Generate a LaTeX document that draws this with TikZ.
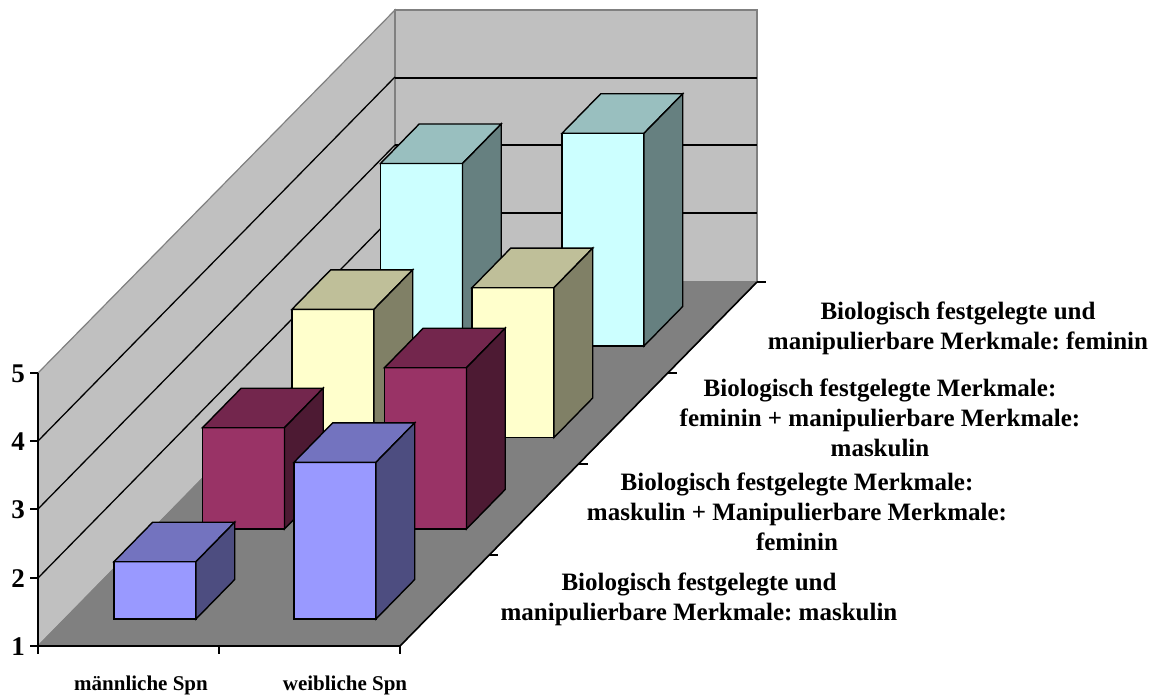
\documentclass[tikz,border=0pt]{standalone}
\usepackage{fontspec}
\setmainfont{Liberation Serif}
\frenchspacing
\definecolor{wallc}{HTML}{C0C0C0}
\definecolor{floorc}{HTML}{808080}
\definecolor{edgec}{HTML}{808080}
\definecolor{af}{HTML}{9999FF}\definecolor{at}{HTML}{7373BF}\definecolor{as}{HTML}{4D4D80}
\definecolor{bf}{HTML}{993366}\definecolor{bt}{HTML}{73264D}\definecolor{bs}{HTML}{4D1A33}
\definecolor{cf}{HTML}{FFFFCC}\definecolor{ct}{HTML}{BFBF99}\definecolor{cs}{HTML}{808066}
\definecolor{df}{HTML}{CCFFFF}\definecolor{dt}{HTML}{99BFBF}\definecolor{ds}{HTML}{668080}
\newcommand\chartbar[4]{% #1 left x, #2 bottom y, #3 top y, #4 colour prefix
  \filldraw[barline,fill=#4f] (#1,#2) -- (#1+82,#2) -- (#1+82,#3) -- (#1,#3) -- cycle;
  \filldraw[barline,fill=#4t] (#1,#3) -- (#1+82,#3) -- (#1+120.7,#3-39.5) -- (#1+38.7,#3-39.5) -- cycle;
  \filldraw[barline,fill=#4s] (#1+82,#2) -- (#1+120.7,#2-39.5) -- (#1+120.7,#3-39.5) -- (#1+82,#3) -- cycle;
}
\begin{document}
\begin{tikzpicture}[x=1pt,y=-1pt,
  barline/.style={draw=black,line width=1.4pt,line join=miter},
  grid/.style={draw=black,line width=1.3pt},
  axisline/.style={draw=black,line width=1.6pt},
  ticknum/.style={font=\fontsize{27}{27}\selectfont\bfseries,inner sep=0pt},
  catlabel/.style={font=\fontsize{21}{21}\selectfont\bfseries,inner sep=0pt,anchor=base},
  legendtext/.style={font=\fontsize{25}{30}\selectfont\bfseries,align=center,inner sep=0pt}]
\useasboundingbox (0,0) rectangle (1162,695);
% walls
\filldraw[fill=wallc,draw=edgec,line width=1.2pt] (38,646) -- (38,373) -- (395,10) -- (395,282) -- cycle;
\filldraw[fill=wallc,draw=edgec,line width=1.2pt] (395,10) -- (757,10) -- (757,282) -- (395,282) -- cycle;
% grid lines
\foreach \y in {578,509,441} \draw[grid] (38,\y) -- (395,\y-364);
\foreach \y in {213,145,78} \draw[grid] (395,\y) -- (757,\y);
% floor
\filldraw[fill=floorc,draw=edgec,line width=1pt] (38,646) -- (395,282) -- (757,282) -- (400,646) -- cycle;
\draw[axisline] (400,646) -- (757,282);
\foreach \i in {1,2,3,4} \draw[line width=1.2pt] (400+89.25*\i,646-91*\i) -- ++(9,0);
% axes
\draw[line width=1.4pt] (38,373) -- (38,646);
\draw[axisline] (38,646) -- (400,646);
\foreach \x in {38,219,400} \draw[line width=1.4pt] (\x,646) -- (\x,654);
\foreach \y in {373,441,509,578,646} \draw[line width=1.4pt] (30,\y) -- (38,\y);
% value labels
\node[ticknum] (v5) at (18,374) {5};
\node[ticknum] (v4) at (18,442) {4};
\node[ticknum] (v3) at (18,510) {3};
\node[ticknum] (v2) at (18,579) {2};
\node[ticknum] (v1) at (18,647) {1};
% bars, back to front
\chartbar{380.5}{346}{163.5}{d}
\chartbar{562}{346}{133.3}{d}
\chartbar{292}{437.5}{309.3}{c}
\chartbar{472}{437.5}{287.7}{c}
\chartbar{202.5}{529}{427.7}{b}
\chartbar{384.5}{529}{367.7}{b}
\chartbar{114}{619}{561.7}{a}
\chartbar{294}{619}{462.3}{a}
% category labels
\node[catlabel] (m) at (141,690) {männliche Spn};
\node[catlabel] (w) at (345,690) {weibliche Spn};
% series labels
\node[legendtext] (s4) at (958,328) {Biologisch festgelegte und\\manipulierbare Merkmale: feminin};
\node[legendtext] (s3) at (880,418) {Biologisch festgelegte Merkmale:\\feminin + manipulierbare Merkmale:\\maskulin};
\node[legendtext] (s2) at (797,512) {Biologisch festgelegte Merkmale:\\maskulin + Manipulierbare Merkmale:\\feminin};
\node[legendtext] (s1) at (699,599) {Biologisch festgelegte und\\manipulierbare Merkmale: maskulin};
\end{tikzpicture}
\end{document}
